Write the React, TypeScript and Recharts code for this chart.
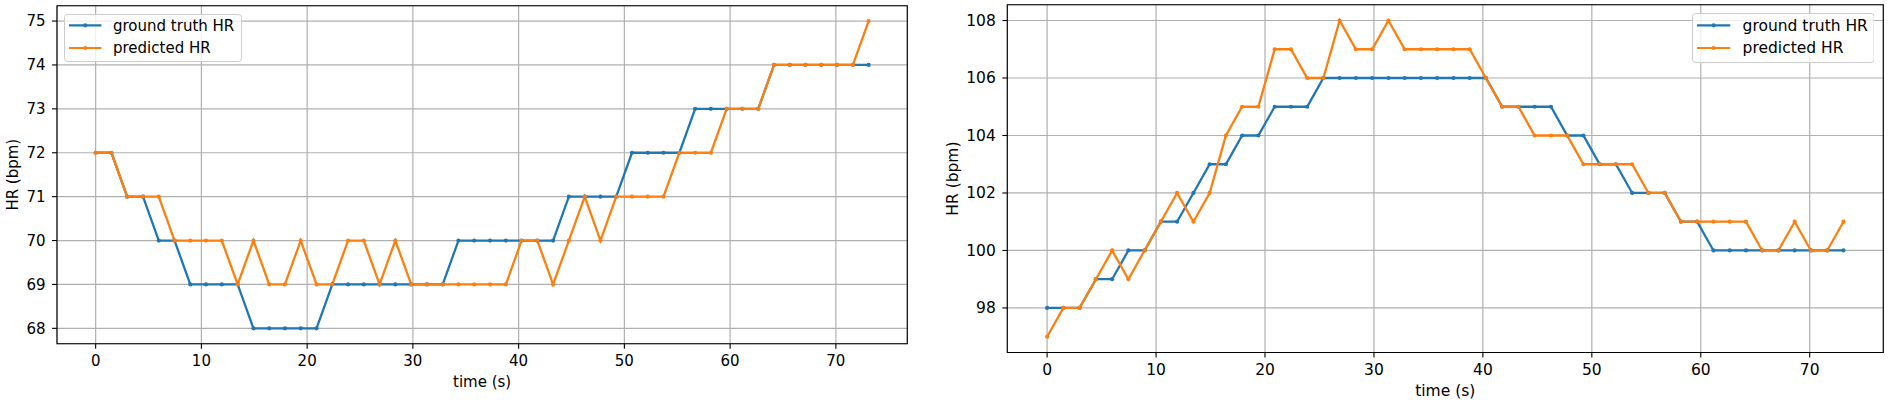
import { LineChart, Line, XAxis, YAxis, CartesianGrid, Legend, ReferenceArea, Label } from 'recharts';

// time stamps (s), shared by both recordings
const time = [
  0, 1.49, 2.98, 4.48, 5.97, 7.46, 8.95, 10.44, 11.93, 13.43,
  14.92, 16.41, 17.9, 19.39, 20.89, 22.38, 23.87, 25.36, 26.85, 28.34,
  29.84, 31.33, 32.82, 34.31, 35.8, 37.3, 38.79, 40.28, 41.77, 43.26,
  44.75, 46.25, 47.74, 49.23, 50.72, 52.21, 53.7, 55.2, 56.69, 58.18,
  59.67, 61.16, 62.66, 64.15, 65.64, 67.13, 68.62, 70.11, 71.61, 73.1,
];

const gtLeft = [
  72, 72, 71, 71, 70, 70, 69, 69, 69, 69,
  68, 68, 68, 68, 68, 69, 69, 69, 69, 69,
  69, 69, 69, 70, 70, 70, 70, 70, 70, 70,
  71, 71, 71, 71, 72, 72, 72, 72, 73, 73,
  73, 73, 73, 74, 74, 74, 74, 74, 74, 74,
];
const predLeft = [
  72, 72, 71, 71, 71, 70, 70, 70, 70, 69,
  70, 69, 69, 70, 69, 69, 70, 70, 69, 70,
  69, 69, 69, 69, 69, 69, 69, 70, 70, 69,
  70, 71, 70, 71, 71, 71, 71, 72, 72, 72,
  73, 73, 73, 74, 74, 74, 74, 74, 74, 75,
];

const gtRight = [
  98, 98, 98, 99, 99, 100, 100, 101, 101, 102,
  103, 103, 104, 104, 105, 105, 105, 106, 106, 106,
  106, 106, 106, 106, 106, 106, 106, 106, 105, 105,
  105, 105, 104, 104, 103, 103, 102, 102, 102, 101,
  101, 100, 100, 100, 100, 100, 100, 100, 100, 100,
];
const predRight = [
  97, 98, 98, 99, 100, 99, 100, 101, 102, 101,
  102, 104, 105, 105, 107, 107, 106, 106, 108, 107,
  107, 108, 107, 107, 107, 107, 107, 106, 105, 105,
  104, 104, 104, 103, 103, 103, 103, 102, 102, 101,
  101, 101, 101, 101, 100, 100, 101, 100, 100, 101,
];

const xTicks = [0, 10, 20, 30, 40, 50, 60, 70];
const yTicksLeft = [68, 69, 70, 71, 72, 73, 74, 75];
const yTicksRight = [98, 100, 102, 104, 106, 108];

const BLUE = '#1f77b4';
const ORANGE = '#ff7f0e';
const FONT = '"DejaVu Sans", sans-serif';
const X_DOMAIN: [number, number] = [-3.655, 76.755];

const toRows = (gt: number[], pred: number[]) =>
  time.map((t, i) => ({ t, gt: gt[i], pred: pred[i] }));

function Panel(props: any) {
  const { rows, yDomain, yTicks, width, height, margin, yWidth, xHeight, fs, legend } = props;

  const renderLegend = ({ payload }: any) => (
    <svg width={legend.w} height={legend.h} style={{ display: 'block' }}>
      <rect x={0.5} y={0.5} width={legend.w - 1} height={legend.h - 1} rx={3} fill="#fff" fillOpacity={0.8} stroke="#cccccc" />
      {(payload || []).map((p: any, i: number) => {
        const y = legend.rows[i];
        return (
          <g key={p.value}>
            <line x1={5} x2={legend.lineEnd} y1={y} y2={y} stroke={p.color} strokeWidth={2.2} />
            <circle cx={(5 + legend.lineEnd) / 2} cy={y} r={2.1} fill={p.color} />
            <text x={legend.textX} y={y} dy="0.35em" fontSize={fs} fontFamily={FONT} fill="#000">{p.value}</text>
          </g>
        );
      })}
    </svg>
  );

  return (
    <LineChart width={width} height={height} data={rows} margin={margin}>
      <CartesianGrid stroke="#b0b0b0" strokeWidth={1.2} />
      <XAxis
        dataKey="t"
        type="number"
        domain={X_DOMAIN}
        ticks={xTicks}
        allowDataOverflow
        height={xHeight}
        axisLine={false}
        tickLine={{ stroke: '#000', strokeWidth: 1.1 }}
        tickSize={5}
        tickMargin={6.5}
        tick={{ fill: '#000', fontSize: fs, fontFamily: FONT }}
      >
        <Label
          content={({ viewBox }: any) => (
            <text x={viewBox.x + viewBox.width / 2} y={viewBox.y + 38.3} dy="0.35em" textAnchor="middle" fontSize={fs} fontFamily={FONT} fill="#000">
              time (s)
            </text>
          )}
        />
      </XAxis>
      <YAxis
        type="number"
        domain={yDomain}
        ticks={yTicks}
        allowDataOverflow
        width={yWidth}
        axisLine={false}
        tickLine={{ stroke: '#000', strokeWidth: 1.1 }}
        tickSize={5}
        tickMargin={6.5}
        tick={{ fill: '#000', fontSize: fs, fontFamily: FONT }}
      >
        <Label
          content={({ viewBox }: any) => {
            const cx = 12.5;
            const cy = viewBox.y + viewBox.height / 2;
            return (
              <text x={cx} y={cy} dy="0.35em" textAnchor="middle" transform={`rotate(-90, ${cx}, ${cy})`} fontSize={fs} fontFamily={FONT} fill="#000">
                HR (bpm)
              </text>
            );
          }}
        />
      </YAxis>
      <ReferenceArea x1={X_DOMAIN[0]} x2={X_DOMAIN[1]} y1={yDomain[0]} y2={yDomain[1]} fill="none" fillOpacity={0} stroke="#000" strokeWidth={1.1} />
      <Legend
        layout="vertical"
        align="center"
        verticalAlign="middle"
        content={renderLegend}
        wrapperStyle={{ left: legend.x, top: legend.y, width: legend.w, height: legend.h }}
      />
      <Line type="linear" dataKey="gt" name="ground truth HR" stroke={BLUE} strokeWidth={2.3}
        dot={{ r: 2.1, fill: BLUE, stroke: BLUE, strokeWidth: 0 }} activeDot={false} isAnimationActive={false} />
      <Line type="linear" dataKey="pred" name="predicted HR" stroke={ORANGE} strokeWidth={2.3}
        dot={{ r: 2.1, fill: ORANGE, stroke: ORANGE, strokeWidth: 0 }} activeDot={false} isAnimationActive={false} />
    </LineChart>
  );
}

export default function App() {
  return (
    <div style={{ position: 'absolute', left: 0, top: 0, width: 1889, height: 403, background: '#fff', fontFamily: FONT }}>
      <div style={{ position: 'absolute', left: 0, top: 0 }}>
        <Panel
          rows={toRows(gtLeft, predLeft)}
          yDomain={[67.65, 75.35]}
          yTicks={yTicksLeft}
          width={908}
          height={403}
          margin={{ top: 5.7, right: 0.7, bottom: 0, left: 0 }}
          yWidth={57}
          xHeight={59.3}
          fs={15}
          legend={{ x: 64.3, y: 14, w: 178, h: 48, rows: [11.3, 34], lineEnd: 37.4, textX: 49 }}
        />
      </div>
      <div style={{ position: 'absolute', left: 940, top: 0 }}>
        <Panel
          rows={toRows(gtRight, predRight)}
          yDomain={[96.45, 108.55]}
          yTicks={yTicksRight}
          width={949}
          height={403}
          margin={{ top: 4.7, right: 5.7, bottom: 0, left: 0 }}
          yWidth={67.3}
          xHeight={50.5}
          fs={15.5}
          legend={{ x: 751.7, y: 12.7, w: 182.6, h: 50, rows: [12.3, 35], lineEnd: 38.3, textX: 50.6 }}
        />
      </div>
    </div>
  );
}
